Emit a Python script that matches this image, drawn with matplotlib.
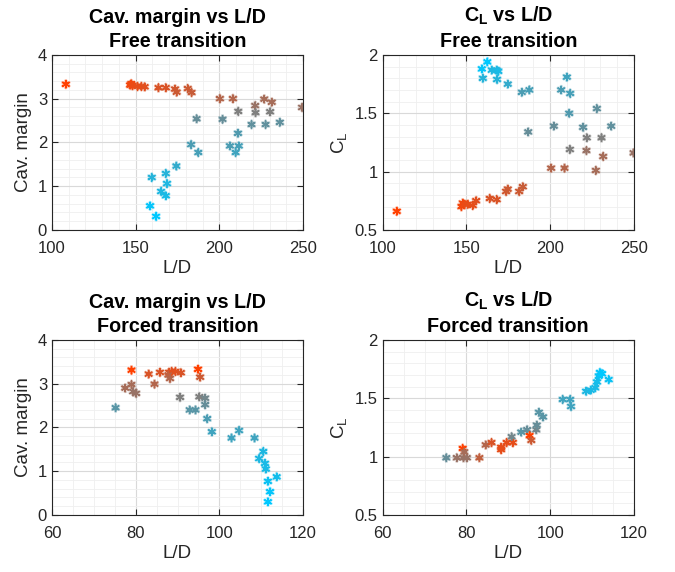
import numpy as np
import matplotlib
matplotlib.use('Agg')
import matplotlib.pyplot as plt
from matplotlib.colors import LinearSegmentedColormap
from matplotlib.ticker import MultipleLocator, FuncFormatter

plt.rcParams['font.family'] = ['Liberation Sans', 'DejaVu Sans']
plt.rcParams['mathtext.fontset'] = 'custom'
plt.rcParams['mathtext.rm'] = 'Liberation Sans'
plt.rcParams['mathtext.it'] = 'Liberation Sans'
plt.rcParams['mathtext.bf'] = 'Liberation Sans:bold'

# free transition (same points in both upper panels)
ld_free = [108.3, 146.7, 147.3, 148.1, 151.1, 153.4, 155.4, 163.6, 168.0, 173.5, 174.5,
           181.1, 183.4, 200.3, 208.1, 226.8, 231.3, 221.4, 249.4, 211.3, 221.6, 230.3,
           186.4, 201.9, 219.2, 227.6, 236.1, 211.1, 183.1, 206.3, 211.6, 187.4, 209.7,
           174.3, 159.6, 168.0, 168.7, 165.2, 168.0, 158.6, 162.2]
cav_free = [3.33, 3.31, 3.34, 3.30, 3.28, 3.28, 3.27, 3.25, 3.25, 3.22, 3.15,
            3.23, 3.14, 3.00, 3.00, 2.99, 2.92, 2.84, 2.80, 2.71, 2.68, 2.70,
            2.54, 2.53, 2.41, 2.41, 2.46, 2.21, 1.95, 1.92, 1.92, 1.77, 1.77,
            1.46, 1.20, 1.29, 1.06, 0.88, 0.78, 0.55, 0.31]
ld_free_cl = [108.4, 147.0, 147.8, 148.8, 150.8, 153.8, 155.8, 163.9, 168.1, 173.7, 174.7,
              181.5, 183.7, 200.6, 208.6, 227.3, 231.7, 221.7, 249.8, 211.8, 221.9, 230.7,
              186.9, 202.2, 219.7, 227.9, 236.5, 211.4, 183.1, 206.6, 212.0, 187.6, 210.0,
              174.7, 159.8, 168.3, 168.1, 165.1, 169.1, 159.2, 162.5]
cl_free = [0.66, 0.70, 0.73, 0.72, 0.72, 0.71, 0.75, 0.77, 0.76, 0.83, 0.85,
           0.83, 0.87, 1.03, 1.03, 1.01, 1.13, 1.18, 1.16, 1.19, 1.29, 1.29,
           1.34, 1.39, 1.38, 1.54, 1.39, 1.50, 1.68, 1.70, 1.67, 1.70, 1.81,
           1.75, 1.80, 1.79, 1.87, 1.87, 1.86, 1.88, 1.94]
# 0 = cyan, 1 = red
shade_free = [1.0, 0.95, 0.95, 0.92, 0.9, 0.9, 0.88, 0.85, 0.85, 0.82, 0.8,
              0.8, 0.78, 0.7, 0.7, 0.65, 0.65, 0.6, 0.6, 0.5, 0.5, 0.5,
              0.4, 0.4, 0.38, 0.38, 0.38, 0.32, 0.3, 0.3, 0.28, 0.28, 0.25,
              0.2, 0.15, 0.15, 0.12, 0.12, 0.1, 0.02, 0.0]

# forced transition
ld_forced = [79.0, 83.1, 85.8, 88.0, 88.6, 89.5, 90.8, 87.8, 88.2, 94.9, 95.4,
             79.0, 77.5, 79.4, 80.1, 84.5, 90.6, 95.2, 96.6, 96.6, 75.2, 92.9,
             94.3, 97.1, 98.2, 102.9, 104.7, 108.4, 110.5, 109.5, 110.9, 111.1,
             113.7, 111.6, 112.1, 111.6]
cav_forced = [3.31, 3.22, 3.26, 3.26, 3.28, 3.28, 3.25, 3.20, 3.12, 3.33, 3.15,
              2.98, 2.90, 2.82, 2.78, 2.99, 2.69, 2.70, 2.67, 2.52, 2.45, 2.40,
              2.40, 2.20, 1.90, 1.76, 1.93, 1.76, 1.45, 1.29, 1.18, 1.05,
              0.87, 0.77, 0.53, 0.30]
shade_forced = [1.0, 0.85, 0.85, 0.85, 0.88, 0.88, 0.85, 0.75, 0.7, 1.0, 0.8,
                0.65, 0.65, 0.6, 0.6, 0.7, 0.5, 0.5, 0.45, 0.4, 0.35, 0.35,
                0.35, 0.3, 0.25, 0.25, 0.25, 0.25, 0.12, 0.12, 0.1, 0.1,
                0.08, 0.05, 0.02, 0.0]

ld_forced_cl = [75.2, 77.7, 79.3, 80.1, 83.1, 79.1, 79.5, 84.6, 86.0, 88.3, 88.3,
                89.6, 91.1, 90.8, 93.1, 94.5, 96.7, 96.8, 95.1, 95.5, 97.3, 98.3,
                103.0, 104.8, 105.0, 108.6, 109.7, 110.8, 111.2, 111.6, 111.9, 112.4, 114.0]
cl_forced = [0.99, 0.99, 0.99, 0.99, 0.99, 1.07, 1.04, 1.10, 1.12, 1.08, 1.06,
             1.12, 1.12, 1.17, 1.21, 1.23, 1.23, 1.27, 1.18, 1.14, 1.38, 1.34,
             1.49, 1.49, 1.43, 1.56, 1.57, 1.59, 1.64, 1.69, 1.72, 1.71, 1.66]
shade_forced_cl = [0.4, 0.6, 0.6, 0.6, 0.75, 1.0, 0.65, 0.7, 0.85, 0.9, 0.9,
                   0.9, 0.9, 0.45, 0.35, 0.4, 0.45, 0.4, 1.0, 0.8, 0.35, 0.35,
                   0.25, 0.25, 0.25, 0.12, 0.1, 0.1, 0.08, 0.05, 0.02, 0.0, 0.05]

cmap = LinearSegmentedColormap.from_list(
    'cr', [(0.0, '#00c8ff'), (0.5, '#808080'), (1.0, '#ff4000')])

fig = plt.figure(figsize=(6.75, 5.72), dpi=100)
edge = '#262626'
fmt = FuncFormatter(lambda v, p: ('%g' % round(v, 3)))


def panel(rect, x, y, shade, title, ylabel, xlim, ylim, xmaj, xmin, ymaj, ymin):
    ax = fig.add_axes(rect)
    cols = cmap(np.array(shade))
    ax.scatter(x, y, marker=(6, 2, 0), s=26, c=cols, linewidths=2.2, alpha=0.3, zorder=3)
    ax.scatter(x, y, marker=(6, 2, 0), s=26, c=cols, linewidths=1.1, zorder=4)
    ax.set_xlim(xlim)
    ax.set_ylim(ylim)
    ax.xaxis.set_major_locator(MultipleLocator(xmaj))
    ax.xaxis.set_minor_locator(MultipleLocator(xmin))
    ax.yaxis.set_major_locator(MultipleLocator(ymaj))
    ax.yaxis.set_minor_locator(MultipleLocator(ymin))
    ax.xaxis.set_major_formatter(fmt)
    ax.yaxis.set_major_formatter(fmt)
    ax.grid(which='major', color='#d9d9d9', lw=0.8)
    ax.grid(which='minor', color='#efefef', lw=0.6)
    ax.set_axisbelow(True)
    ax.tick_params(which='both', direction='in', top=True, right=True,
                   colors=edge, labelsize=12, labelcolor=edge)
    ax.tick_params(which='major', length=4)
    ax.tick_params(axis='x', which='major', pad=8)
    ax.tick_params(which='minor', length=0)
    for s in ax.spines.values():
        s.set_color(edge)
        s.set_linewidth(0.8)
    ax.set_xlabel('L/D', fontsize=13.5, color=edge, labelpad=3)
    ax.set_ylabel(ylabel, fontsize=13.5, color=edge, labelpad=4)
    ax.set_title(title, fontsize=14.2, fontweight='bold', linespacing=1.3, pad=6)
    return ax


w, h = 0.372, 0.306
panel([0.077, 0.598, w, h], ld_free, cav_free, shade_free,
      'Cav. margin vs L/D\nFree transition', 'Cav. margin',
      (100, 250), (0, 4), 50, 10, 1, 0.2)
panel([0.567, 0.598, w, h], ld_free_cl, cl_free, shade_free,
      r'$\mathbf{C_L}$ vs L/D' + '\nFree transition', r'$\mathrm{C_L}$',
      (100, 250), (0.5, 2), 50, 10, 0.5, 0.1)
panel([0.077, 0.0997, w, h], ld_forced, cav_forced, shade_forced,
      'Cav. margin vs L/D\nForced transition', 'Cav. margin',
      (60, 120), (0, 4), 20, 5, 1, 0.2)
panel([0.567, 0.0997, w, h], ld_forced_cl, cl_forced, shade_forced_cl,
      r'$\mathbf{C_L}$ vs L/D' + '\nForced transition', r'$\mathrm{C_L}$',
      (60, 120), (0.5, 2), 20, 5, 0.5, 0.1)

fig.savefig('out.png', dpi=100)
